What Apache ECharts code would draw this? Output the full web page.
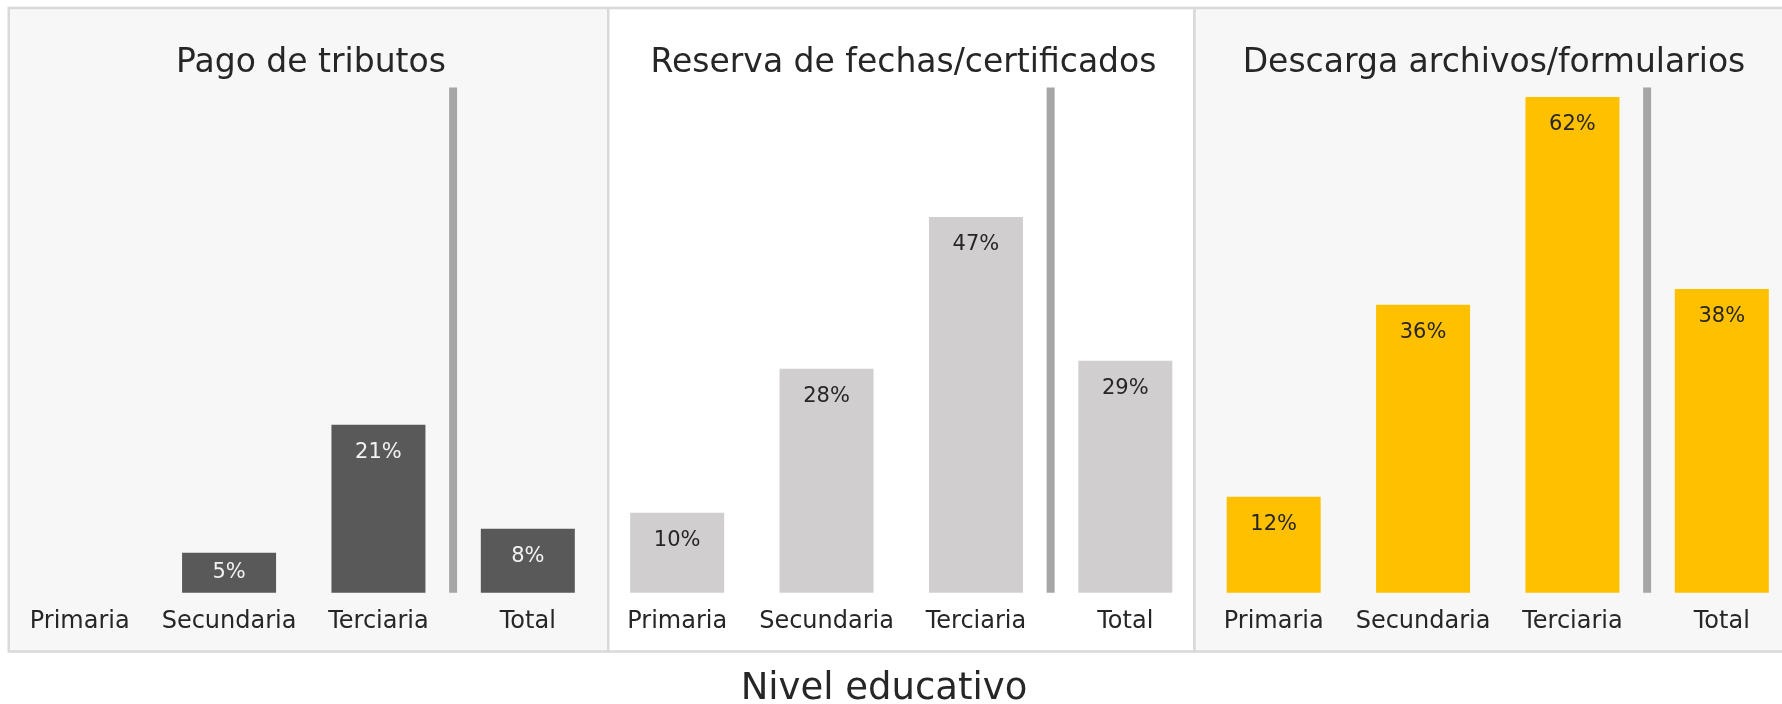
<!DOCTYPE html>
<html>
<head>
<meta charset="utf-8">
<script src="https://cdn.jsdelivr.net/npm/echarts@6/dist/echarts.min.js"></script>
<style>
  html, body { margin: 0; padding: 0; background: #fff; }
  #main { width: 1782px; height: 704px; }
</style>
</head>
<body>
<div id="main"></div>
<script>
  // datos
  var categories = ['Primaria', 'Secundaria', 'Terciaria', 'Total'];
  var panelTitles = ['Pago de tributos', 'Reserva de fechas/certificados', 'Descarga archivos/formularios'];
  var pagoTributos = [null, 5, 21, 8];
  var reservaFechas = [10, 28, 47, 29];
  var descargaArchivos = [12, 36, 62, 38];
  var xAxisTitle = 'Nivel educativo';
  var dividerAt = 2.5; // entre Terciaria y Total
  var yMax = 63.2;

  var panelValues = [pagoTributos, reservaFechas, descargaArchivos];
  var barColors = ['#595959', '#d0cece', '#ffc000'];
  var labelColors = ['#f2f2f2', '#262626', '#262626'];
  var font = "'DejaVu Sans', sans-serif";

  // layout de cada panel
  var chartWidth = 1782;
  var gridLefts = [5, 602.5, 1199];
  var gridWidth = 597.5;
  var titleCenters = [311, 903.5, 1494];
  var panelRects = [
    {x: 8.75, w: 599.5, fill: '#f7f7f7'},
    {x: 608.25, w: 586.25, fill: '#ffffff'},
    {x: 1194.5, w: 600, fill: '#f7f7f7'}
  ];

  var grids = [], xAxes = [], yAxes = [], series = [], graphics = [];

  panelRects.forEach(function (p) {
    graphics.push({
      type: 'rect', z: -10, silent: true,
      shape: {x: p.x, y: 8, width: p.w, height: 643.5},
      style: {fill: p.fill, stroke: '#d9d9d9', lineWidth: 2.5}
    });
  });

  panelValues.forEach(function (vals, i) {
    grids.push({
      left: gridLefts[i],
      right: chartWidth - gridLefts[i] - gridWidth,
      top: 87.4, bottom: 704 - 87.4 - 505.3,
      outerBoundsMode: 'none'
    });
    xAxes.push({
      type: 'category', gridIndex: i, data: categories,
      axisLine: {show: false}, axisTick: {show: false},
      axisLabel: {margin: 17, fontSize: 24, color: '#262626', fontFamily: font, interval: 0}
    });
    yAxes.push({type: 'value', gridIndex: i, min: 0, max: yMax, show: false, splitLine: {show: false}});

    series.push({
      type: 'bar', xAxisIndex: i, yAxisIndex: i, barWidth: 94,
      itemStyle: {color: barColors[i]},
      label: {
        show: true, position: 'insideTop', distance: 17,
        formatter: '{c}%', fontSize: 21, fontFamily: font, color: labelColors[i]
      },
      data: vals.map(function (v) {
        if (v !== null && v < 6) return {value: v, label: {position: 'inside'}};
        return v;
      })
    });

    graphics.push({
      type: 'text', z: 10, silent: true,
      x: titleCenters[i], y: 63,
      style: {text: panelTitles[i], fontSize: 33, fontFamily: font, fill: '#262626',
              textAlign: 'center', textVerticalAlign: 'middle'}
    });
  });

  // separadores verticales (eje auxiliar de valores)
  panelValues.forEach(function (vals, i) {
    xAxes.push({type: 'value', gridIndex: i, min: -0.5, max: 3.5, show: false, splitLine: {show: false}});
    series.push({
      type: 'line', xAxisIndex: 3 + i, yAxisIndex: i, symbol: 'none', silent: true,
      lineStyle: {color: '#a6a6a6', width: 8, cap: 'butt'},
      data: [[dividerAt, 0], [dividerAt, yMax]]
    });
  });

  graphics.push({
    type: 'text', z: 10, silent: true, x: 884, y: 689,
    style: {text: xAxisTitle, fontSize: 37, fontFamily: font, fill: '#262626',
            textAlign: 'center', textVerticalAlign: 'middle'}
  });

  var myChart = echarts.init(document.getElementById('main'));
  myChart.setOption({
    animation: false,
    backgroundColor: '#ffffff',
    grid: grids,
    xAxis: xAxes,
    yAxis: yAxes,
    series: series,
    graphic: graphics
  });
</script>
</body>
</html>
